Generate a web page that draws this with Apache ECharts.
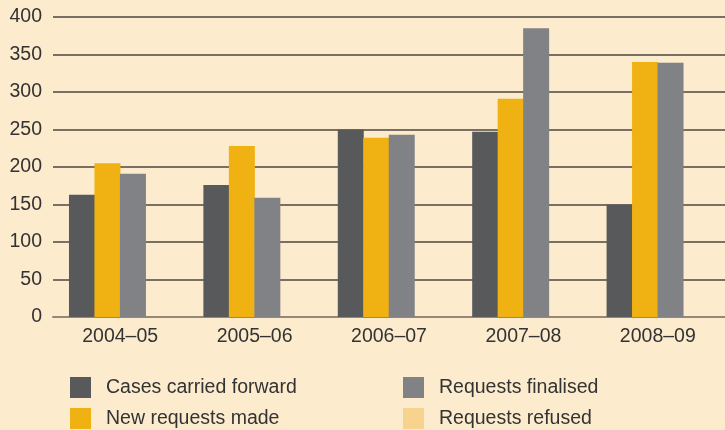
<!DOCTYPE html>
<html lang="en">
<head>
    <meta charset="utf-8">
    <script src="https://cdn.jsdelivr.net/npm/echarts@6/dist/echarts.min.js"></script>
    <style>
        html, body {
            margin: 0;
            padding: 0;
            background: #fcebcd;
        }
        #chart {
            width: 725px;
            height: 430px;
        }
    </style>
</head>
<body>
<div id="chart"></div>

<script>
    var years = ['2004–05', '2005–06', '2006–07', '2007–08', '2008–09'];
    var carriedForward = [163, 176, 250, 247, 150];
    var newRequests = [205, 228, 239, 291, 340];
    var finalised = [191, 159, 243, 385, 339];
    var refused = [0, 0, 0, 0, 0];
    var yTicks = [0, 50, 100, 150, 200, 250, 300, 350, 400];

    var font = '"Liberation Sans", Arial, sans-serif';

    var myChart = echarts.init(document.getElementById('chart'));

    function bar(name, data, color) {
        return {
            name: name,
            type: 'bar',
            data: data,
            barWidth: 26,
            barGap: '-2%',
            itemStyle: {color: color},
            z: 3
        };
    }

    // one legend per entry so they sit in two columns like the original
    function legendItem(name, left, top) {
        return {
            data: [name],
            left: left,
            top: top,
            padding: 0,
            itemWidth: 21,
            itemHeight: 21,
            icon: 'rect',
            textStyle: {fontFamily: font, fontSize: 19.5, color: '#333', padding: [0, 0, 0, 10]}
        };
    }

    var option = {
        backgroundColor: '#fcebcd',
        animation: false,
        grid: {left: 53, right: 0, top: 17, bottom: 113},
        legend: [
            legendItem('Cases carried forward', 70, 377),
            legendItem('New requests made', 70, 408),
            legendItem('Requests finalised', 403, 377),
            legendItem('Requests refused', 403, 408)
        ],
        xAxis: {
            type: 'category',
            data: years,
            axisTick: {show: false},
            axisLine: {lineStyle: {color: '#968874', width: 2}},
            axisLabel: {fontFamily: font, fontSize: 19.5, color: '#333', margin: 10}
        },
        yAxis: {
            type: 'value',
            min: yTicks[0],
            max: yTicks[yTicks.length - 1],
            interval: 50,
            axisLine: {show: false},
            axisTick: {show: false},
            axisLabel: {fontFamily: font, fontSize: 19.5, color: '#333', margin: 11},
            splitLine: {lineStyle: {color: '#4e4740', width: 1.5}}
        },
        series: [
            bar('Cases carried forward', carriedForward, '#58595b'),
            bar('New requests made', newRequests, '#f0b212'),
            bar('Requests finalised', finalised, '#818285'),
            bar('Requests refused', refused, '#f8d38e')
        ]
    };

    myChart.setOption(option);
</script>
</body>
</html>
